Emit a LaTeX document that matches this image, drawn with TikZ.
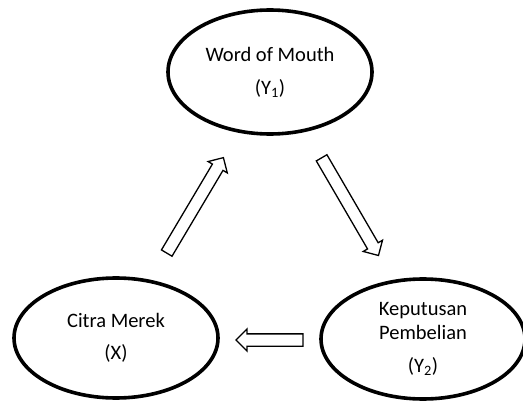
\documentclass[tikz,border=0pt]{standalone}
\usepackage{fontspec}
\setmainfont{Carlito}
\usetikzlibrary{shapes.geometric,shapes.arrows}

\begin{document}
\begin{tikzpicture}
   [x=1pt,y=1pt,
    var/.style={ellipse,draw,line width=3.6pt,minimum width=204pt,
      minimum height=120pt,align=center,inner sep=0pt,
      font=\fontsize{20.5}{24}\selectfont},
    blk/.style={single arrow,draw,line width=1.3pt,inner sep=5.5pt,
      single arrow head extend=5pt,single arrow tip angle=90,
      single arrow head indent=0pt,anchor=center}]

\useasboundingbox (0,0) rectangle (523,400);

\node [var,minimum height=124pt] (wom) at (270,328) {Word of Mouth\\[9pt] (Y\textsubscript{1})};
\node [var] (cm) at (116,62) {Citra Merek\\[8pt] (X)};
\node [var] (kp) at (423,61) {Keputusan\\ Pembelian\\[9pt] (Y\textsubscript{2})};

\node [blk,minimum height=111pt,rotate=59.3] (cm2wom) at (193.5,192) {};
\node [blk,minimum height=113pt,rotate=-59.8] (wom2kp) at (348.5,196) {};
\node [blk,minimum height=67pt,rotate=180] (kp2cm) at (272.5,60) {};
\end{tikzpicture}
\end{document}
